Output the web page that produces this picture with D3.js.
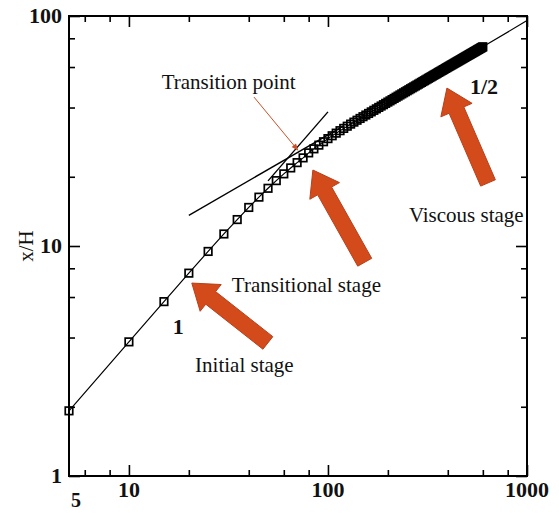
<!DOCTYPE html>
<html>
<head>
<meta charset="utf-8">
<script src="https://cdn.jsdelivr.net/npm/d3@7"></script>
<style>
  body { margin: 0; background: #fff; }
  svg { display: block; font-family: "Liberation Serif", "Times New Roman", serif; }
</style>
</head>
<body>
<svg id="chart" width="559" height="513"></svg>
<script>
// x/H against the horizontal coordinate
const xValues = [5, 10, 15, 20, 25, 30, 35, 40, 45, 50, 55, 60, 65, 70, 75, 80, 85, 90, 95, 100,
  105, 110, 115, 120, 125, 130, 135, 140, 145, 150, 155, 160, 165, 170, 175, 180, 185, 190, 195, 200,
  205, 210, 215, 220, 225, 230, 235, 240, 245, 250, 255, 260, 265, 270, 275, 280, 285, 290, 295, 300,
  305, 310, 315, 320, 325, 330, 335, 340, 345, 350, 355, 360, 365, 370, 375, 380, 385, 390, 395, 400,
  405, 410, 415, 420, 425, 430, 435, 440, 445, 450, 455, 460, 465, 470, 475, 480, 485, 490, 495, 500,
  505, 510, 515, 520, 525, 530, 535, 540, 545, 550, 555, 560, 565, 570, 575, 580, 585, 590, 595, 600];
const yValues = [1.92, 3.83, 5.73, 7.62, 9.47, 11.28, 13.03, 14.71, 16.31, 17.82, 19.24, 20.59, 21.85, 23.04, 24.16, 25.4, 26.45, 27.45, 28.4, 29.3,
  30.15, 30.95, 31.72, 32.46, 33.18, 33.88, 34.56, 35.22, 35.86, 36.49, 37.1, 37.7, 38.3, 38.89, 39.47, 40.04, 40.6, 41.15, 41.7, 42.24,
  42.76, 43.29, 43.82, 44.34, 44.85, 45.36, 45.86, 46.35, 46.84, 47.32, 47.8, 48.27, 48.74, 49.2, 49.66, 50.11, 50.56, 51.01, 51.45, 51.89,
  52.32, 52.75, 53.18, 53.61, 54.02, 54.45, 54.86, 55.26, 55.67, 56.07, 56.48, 56.87, 57.27, 57.67, 58.05, 58.44, 58.82, 59.2, 59.58, 59.96,
  60.34, 60.71, 61.08, 61.45, 61.81, 62.17, 62.53, 62.89, 63.25, 63.6, 63.96, 64.31, 64.66, 65.01, 65.35, 65.7, 66.04, 66.38, 66.72, 67.05,
  67.39, 67.72, 68.05, 68.38, 68.71, 69.04, 69.37, 69.69, 70.01, 70.33, 70.65, 70.97, 71.29, 71.6, 71.92, 72.23, 72.54, 72.85, 73.16, 73.46];

// the fitted curve runs on past the last square
const fitExtraX = [1000];
const fitExtraY = [95.5];

// tangent lines (slope 1 and slope 1/2)
const slopeOneX = [50, 100];
const slopeOneY = [19.2, 38.3];
const slopeHalfX = [20, 120];
const slopeHalfY = [13.6, 33.3];

const xMajor = [10, 100, 1000];
const xMinor = [6, 8, 20, 40, 60, 80, 200, 400, 600, 800];
const yMajor = [1, 10, 100];
const yMinor = [2, 4, 6, 8, 20, 40, 60, 80];
const xTickLabels = ["10", "100", "1000"];
const yTickLabels = ["1", "10", "100"];

// annotations, all in data coordinates
const stageLabels = [
  { text: "Transition point", x: 14.6, y: 48.2 },
  { text: "Transitional stage", x: 32.9, y: 6.31 },
  { text: "Initial stage", x: 21.5, y: 2.83 },
  { text: "Viscous stage", x: 255, y: 12.7 }
];
const slopeLabels = [
  { text: "1", x: 16.6, y: 4.14 },
  { text: "1/2", x: 517, y: 45.8 }
];
const bigArrows = [
  { from: [49.9, 3.79], to: [20.7, 6.9] },
  { from: [153, 8.5], to: [84, 21.4] },
  { from: [637, 18.8], to: [396, 48.6] }
];
const pointerFrom = [42.5, 44.4];
const pointerTo = [70.6, 26.1];

const svg = d3.select("#chart");
const margin = { top: 16, right: 32, bottom: 37, left: 69 };
const width = +svg.attr("width") - margin.left - margin.right;
const height = +svg.attr("height") - margin.top - margin.bottom;
const g = svg.append("g").attr("transform", `translate(${margin.left},${margin.top})`);

const x = d3.scaleLog().domain([5, 1000]).range([0, width]);
const y = d3.scaleLog().domain([1, 100]).range([height, 0]);

const arrowColor = "#d34a1b";

svg.append("defs").append("marker")
  .attr("id", "tip")
  .attr("viewBox", "0 0 10 10")
  .attr("refX", 9).attr("refY", 5)
  .attr("markerWidth", 9).attr("markerHeight", 7)
  .attr("markerUnits", "userSpaceOnUse")
  .attr("orient", "auto")
  .append("path")
  .attr("d", "M0,1 L10,5 L0,9 z")
  .attr("fill", "#c9502a");

// ticks on all four sides, pointing inward
function ticks(axisFn, vals, size, transform) {
  g.append("g")
    .attr("transform", transform)
    .call(axisFn.tickValues(vals).tickSize(-size).tickFormat(""))
    .call(s => s.select(".domain").remove())
    .selectAll("line").attr("stroke", "#000").attr("stroke-width", 1.6);
}
ticks(d3.axisBottom(x), xMajor, 11, `translate(0,${height})`);
ticks(d3.axisBottom(x), xMinor, 6, `translate(0,${height})`);
ticks(d3.axisTop(x), xMajor, 11, "translate(0,0)");
ticks(d3.axisTop(x), xMinor, 6, "translate(0,0)");
ticks(d3.axisLeft(y), yMajor, 11, "translate(0,0)");
ticks(d3.axisLeft(y), yMinor, 6, "translate(0,0)");
ticks(d3.axisRight(y), yMajor, 11, `translate(${width},0)`);
ticks(d3.axisRight(y), yMinor, 6, `translate(${width},0)`);

// tick labels
g.selectAll(".xlab").data(xMajor).join("text")
  .attr("x", d => x(d)).attr("y", height + 21)
  .attr("text-anchor", "middle")
  .attr("font-size", 22).attr("font-weight", "bold").attr("fill", "#111")
  .text((d, i) => xTickLabels[i]);
g.append("text")
  .attr("x", x(5) + 7).attr("y", height + 31)
  .attr("text-anchor", "middle")
  .attr("font-size", 20).attr("font-weight", "bold").attr("fill", "#111")
  .text("5");
g.selectAll(".ylab").data(yMajor).join("text")
  .attr("x", -7).attr("y", d => y(d) + 7)
  .attr("text-anchor", "end")
  .attr("font-size", 22).attr("font-weight", "bold").attr("fill", "#111")
  .text((d, i) => yTickLabels[i]);

g.append("text")
  .attr("transform", `translate(${-36},${y(10)}) rotate(-90)`)
  .attr("text-anchor", "middle")
  .attr("font-size", 21).attr("fill", "#111")
  .text("x/H");

// tangents
const line = d3.line().x(d => x(d[0])).y(d => y(d[1]));
g.append("path")
  .datum(slopeOneX.map((v, i) => [v, slopeOneY[i]]))
  .attr("d", line).attr("fill", "none").attr("stroke", "#000").attr("stroke-width", 1.4);
g.append("path")
  .datum(slopeHalfX.map((v, i) => [v, slopeHalfY[i]]))
  .attr("d", line).attr("fill", "none").attr("stroke", "#000").attr("stroke-width", 1.4);

// data curve and squares
const pts = xValues.map((v, i) => [v, yValues[i]]);
g.append("path")
  .datum(pts.concat(fitExtraX.map((v, i) => [v, fitExtraY[i]])))
  .attr("d", line).attr("fill", "none").attr("stroke", "#000").attr("stroke-width", 1.2);

const sq = 7.5;
g.selectAll(".pt").data(pts).join("rect")
  .attr("x", d => x(d[0]) - sq / 2).attr("y", d => y(d[1]) - sq / 2)
  .attr("width", sq).attr("height", sq)
  .attr("fill", "none").attr("stroke", "#000").attr("stroke-width", 1.7);

// frame
g.append("rect")
  .attr("width", width).attr("height", height)
  .attr("fill", "none").attr("stroke", "#000").attr("stroke-width", 2);

// text labels
g.selectAll(".stage").data(stageLabels).join("text")
  .attr("x", d => x(d.x)).attr("y", d => y(d.y))
  .attr("font-size", 21).attr("fill", "#111")
  .text(d => d.text);
g.selectAll(".slope").data(slopeLabels).join("text")
  .attr("x", d => x(d.x)).attr("y", d => y(d.y))
  .attr("font-size", 22).attr("font-weight", "bold").attr("fill", "#111")
  .text(d => d.text);

// thin pointer to the transition point
g.append("line")
  .attr("x1", x(pointerFrom[0])).attr("y1", y(pointerFrom[1]))
  .attr("x2", x(pointerTo[0])).attr("y2", y(pointerTo[1]))
  .attr("stroke", "#c9502a").attr("stroke-width", 1)
  .attr("marker-end", "url(#tip)");

// block arrows
function blockArrow(a) {
  const x0 = x(a.from[0]), y0 = y(a.from[1]);
  const x1 = x(a.to[0]), y1 = y(a.to[1]);
  const len = Math.hypot(x1 - x0, y1 - y0);
  const ux = (x1 - x0) / len, uy = (y1 - y0) / len;
  const px = -uy, py = ux;
  const sw = 8, hw = 17, hl = 24;
  const bx = x1 - ux * hl, by = y1 - uy * hl;
  const p = [
    [x0 + px * sw, y0 + py * sw],
    [bx + px * sw, by + py * sw],
    [bx + px * hw, by + py * hw],
    [x1, y1],
    [bx - px * hw, by - py * hw],
    [bx - px * sw, by - py * sw],
    [x0 - px * sw, y0 - py * sw]
  ];
  return "M" + p.map(q => q.join(",")).join("L") + "Z";
}
g.selectAll(".big").data(bigArrows).join("path")
  .attr("d", blockArrow)
  .attr("fill", arrowColor).attr("stroke", "#b8401a").attr("stroke-width", 1);
</script>
</body>
</html>
